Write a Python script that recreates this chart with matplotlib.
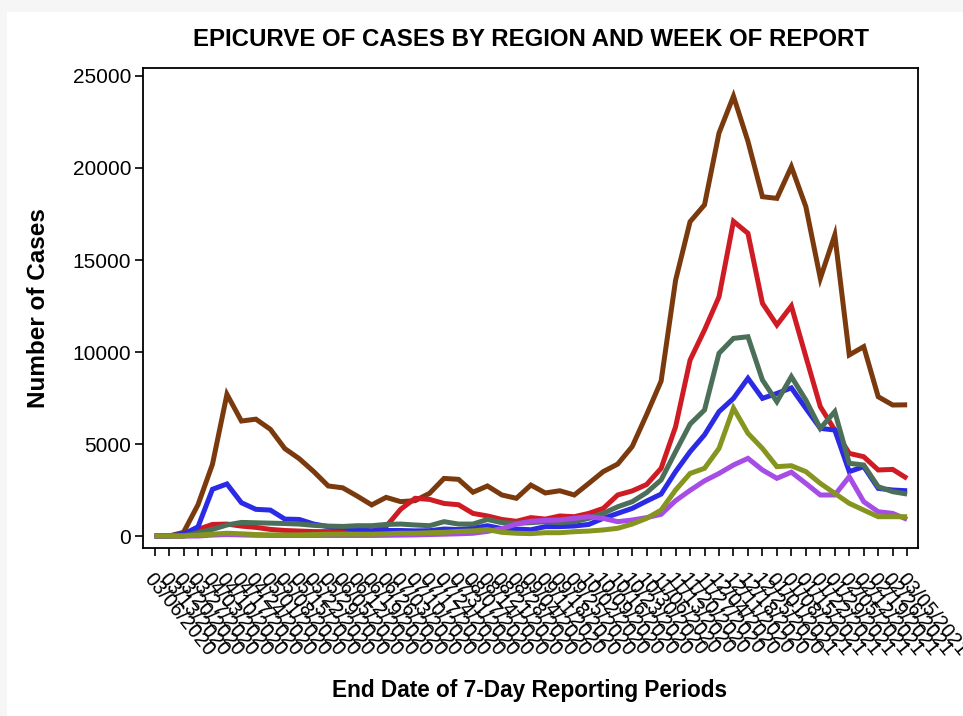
import pandas as pd
import matplotlib
matplotlib.use("Agg")
import matplotlib.pyplot as plt
import matplotlib.transforms as mtransforms
from matplotlib.patches import Rectangle

plt.rcParams['font.family'] = ['Liberation Sans', 'DejaVu Sans']

# week ending dates (weekly, 03/06/2020 .. 03/05/2021)
week_labels = list(pd.date_range('2020-03-06', periods=53, freq='7D').strftime('%m/%d/%Y'))

# cases per region and week
brown = [0, 0, 200, 1700, 3900, 7700, 6250, 6350, 5800, 4750, 4200, 3500, 2720, 2620,
         2170, 1690, 2100, 1870, 1920, 2320, 3130, 3080, 2380, 2720, 2230, 2050, 2770,
         2340, 2460, 2230, 2860, 3500, 3910, 4860, 6600, 8420, 13900, 17080, 18000,
         21900, 23900, 21450, 18440, 18350, 20070, 17900, 14000, 16360, 9840, 10290,
         7570, 7120, 7130]
red = [0, 0, 0, 360, 630, 650, 540, 470, 360, 300, 270, 240, 240, 270,
       290, 250, 520, 1450, 2050, 1990, 1770, 1700, 1230, 1090, 900, 800, 1000,
       920, 1090, 1050, 1230, 1500, 2230, 2450, 2800, 3680, 5940, 9560, 11200,
       13000, 17100, 16450, 12650, 11470, 12500, 9750, 7030, 5760, 4490, 4310,
       3590, 3620, 3130]
blue = [0, 0, 100, 500, 2540, 2830, 1810, 1450, 1410, 920, 900, 650, 510, 470,
        320, 290, 300, 300, 280, 290, 380, 350, 420, 560, 400, 380, 340,
        510, 510, 545, 630, 960, 1230, 1500, 1900, 2280, 3500, 4580, 5500,
        6760, 7480, 8570, 7480, 7750, 8050, 6940, 5850, 5760, 3500, 3770,
        2590, 2500, 2460]
green = [0, 0, 0, 180, 360, 600, 740, 720, 700, 680, 650, 580, 540, 520,
         560, 560, 630, 650, 600, 560, 780, 650, 650, 900, 725, 690, 725,
         780, 725, 780, 960, 1230, 1590, 1865, 2360, 3050, 4580, 6080, 6850,
         9930, 10740, 10830, 8480, 7300, 8660, 7390, 5850, 6760, 3950, 3860,
         2680, 2410, 2280]
purple = [0, 0, 0, 0, 50, 80, 60, 40, 30, 30, 30, 30, 30, 30,
          30, 30, 40, 50, 60, 80, 100, 120, 150, 250, 400, 650, 800,
          850, 870, 960, 1050, 960, 780, 870, 1000, 1180, 1920, 2480, 3000,
          3400, 3860, 4220, 3590, 3135, 3470, 2860, 2230, 2230, 3225, 1865,
          1320, 1230, 905]
olive = [0, 0, 0, 50, 100, 150, 120, 80, 60, 60, 60, 80, 100, 100,
         100, 100, 120, 150, 150, 180, 200, 250, 280, 350, 200, 150, 130,
         180, 180, 235, 270, 330, 420, 650, 960, 1410, 2500, 3400, 3680,
         4760, 6950, 5580, 4760, 3770, 3820, 3500, 2860, 2320, 1775, 1410,
         1050, 1050, 1050]

series = [
    (brown, '#7b3a0e'),
    (red, '#cf1c24'),
    (blue, '#2b2be6'),
    (green, '#4b6f59'),
    (purple, '#a64de6'),
    (olive, '#86951f'),
]

fig = plt.figure(figsize=(9.63, 7.16), dpi=100)
fig.patch.set_facecolor('#f6f6f6')
fig.patches.append(Rectangle((7 / 963, 0), 1, 1 - 12 / 716, transform=fig.transFigure,
                             facecolor='white', edgecolor='none', zorder=-10))

ax = fig.add_axes([143 / 963, 1 - 548 / 716, 775 / 963, 480 / 716])
x = list(range(len(week_labels)))
for vals, col in series:
    ax.plot(x, vals, color=col, lw=3.6, solid_joinstyle='miter', solid_capstyle='butt')

ax.set_xlim(-0.8, 52.75)
ax.set_ylim(-651, 25434)
ax.set_yticks([0, 5000, 10000, 15000, 20000, 25000])
ax.set_yticklabels(['0', '5000', '10000', '15000', '20000', '25000'])
ax.set_xticks(x)
ax.set_xticklabels(week_labels, rotation=-51, rotation_mode='anchor', ha='left', va='center')

ax.tick_params(axis='y', direction='out', length=5.5, width=1.2, labelsize=15, pad=3)
ax.tick_params(axis='x', direction='out', length=5.5, width=1.2, labelsize=14.5, pad=14)
offset = mtransforms.ScaledTranslation(-7 / 100, 0, fig.dpi_scale_trans)
for lab in ax.get_xticklabels():
    lab.set_transform(lab.get_transform() + offset)

for sp in ax.spines.values():
    sp.set_linewidth(1.3)

ax.set_title('EPICURVE OF CASES BY REGION AND WEEK OF REPORT', fontsize=17.3,
             fontweight='bold', pad=16)
ax.set_ylabel('Number of Cases', fontsize=17.5, fontweight='bold', labelpad=16)
fig.text(530 / 963, 1 - 690 / 716, 'End Date of 7-Day Reporting Periods', fontsize=16.3,
         fontweight='bold', ha='center', va='center')

fig.savefig('out.png', dpi=100, facecolor=fig.get_facecolor())
